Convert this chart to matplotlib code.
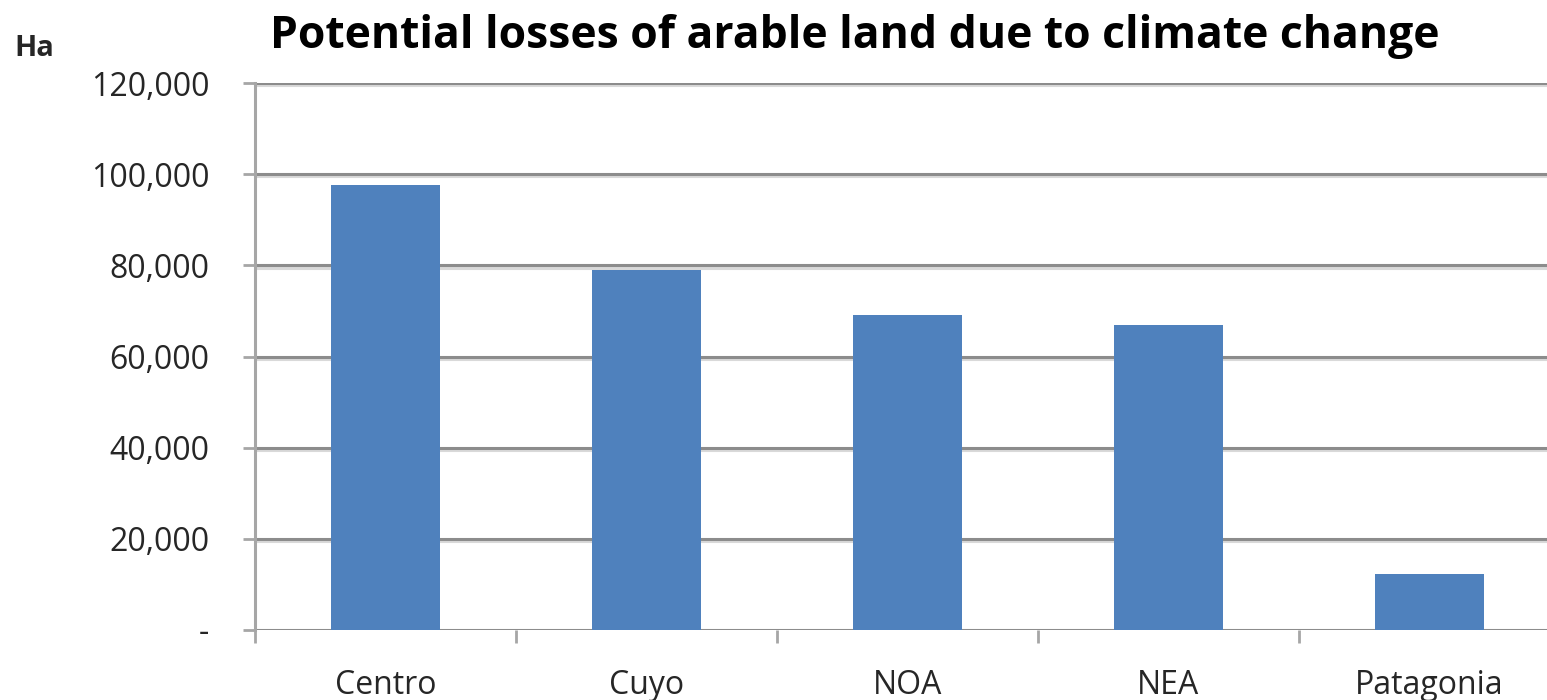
import matplotlib.pyplot as plt
import matplotlib.patheffects as pe
from matplotlib.ticker import FuncFormatter, FixedLocator

regions = ['Centro', 'Cuyo', 'NOA', 'NEA', 'Patagonia']
losses_ha = [97600, 79000, 69000, 66900, 12300]

bar_color = '#4f81bd'
grid_color = '#8c8c8c'
text_color = '#262626'

fig = plt.figure(figsize=(15.47, 7.0), dpi=100)
ax = fig.add_axes([0.1648, 0.1, 0.8436, 0.7814])

x = range(len(regions))
ax.bar(x, losses_ha, width=0.42, color=bar_color, zorder=3)

ax.set_xlim(-0.5, len(regions) - 0.5)
ax.set_ylim(0, 120000)
ax.set_yticks(range(0, 120001, 20000))


def fmt(v, pos):
    return '-' if v == 0 else f'{int(v):,}'


ax.yaxis.set_major_formatter(FuncFormatter(fmt))

# horizontal gridlines with a faint shadow below
ax.yaxis.grid(True, color=grid_color, linewidth=2.2, zorder=1,
              path_effects=[pe.SimpleLineShadow(offset=(0, -1.6), shadow_color='#d9d9d9', alpha=1),
                            pe.Normal()])
ax.set_axisbelow(True)

for s in ['top', 'right', 'bottom']:
    ax.spines[s].set_visible(False)
ax.spines['left'].set_color('#a6a6a6')
ax.spines['left'].set_linewidth(2.2)

# category labels centred, tick marks at category boundaries
ax.set_xticks(list(x))
ax.set_xticklabels(regions)
ax.xaxis.set_minor_locator(FixedLocator([i - 0.5 for i in range(len(regions) + 1)]))
ax.tick_params(axis='x', which='major', length=0, pad=28, labelsize=23, labelcolor=text_color)
ax.tick_params(axis='x', which='minor', length=9, width=2, color='#a6a6a6')
ax.tick_params(axis='y', length=9, width=2, color='#a6a6a6', pad=24, labelsize=23,
               labelcolor=text_color)

for lbl in ax.get_xticklabels() + ax.get_yticklabels():
    lbl.set_family('Open Sans')

fig.text(0.5527, 0.948, 'Potential losses of arable land due to climate change',
         ha='center', va='center', fontsize=32, fontweight='bold', family='Open Sans')
fig.text(0.009, 0.93, 'Ha', ha='left', va='center', fontsize=21, fontweight='bold',
         family='Open Sans', color=text_color)

fig.savefig('out.png', dpi=100)
